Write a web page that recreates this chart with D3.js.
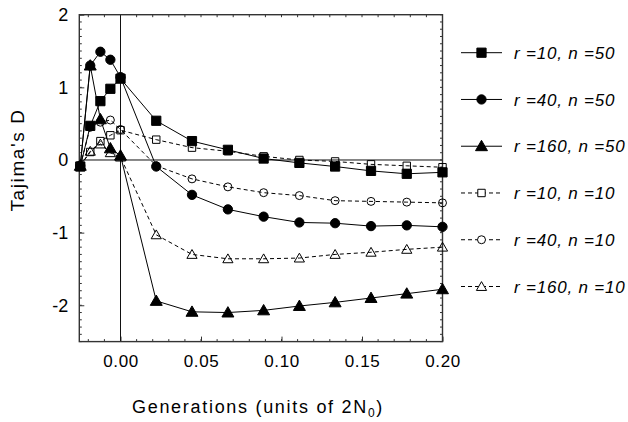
<!DOCTYPE html>
<html>
<head>
<meta charset="utf-8">
<script src="https://cdn.jsdelivr.net/npm/d3@7"></script>
<style>
  body { margin: 0; background: #fff; }
  svg text { font-family: Arial, "Liberation Sans", Helvetica, sans-serif; fill: #000; }
</style>
</head>
<body>
<div id="chart"></div>
<script>
// time points (units of 2N0)
let gens = [-0.025, -0.0188, -0.0125, -0.0063, 0, 0.0222, 0.0444, 0.0667, 0.0889, 0.1111, 0.1333, 0.1556, 0.1778, 0.2];

let r10n50  = [-0.09, 0.47, 0.81, 0.98, 1.12, 0.54, 0.26, 0.14, 0.02, -0.04, -0.09, -0.15, -0.19, -0.17];
let r40n50  = [-0.08, 1.30, 1.49, 1.38, 1.14, -0.09, -0.48, -0.68, -0.78, -0.86, -0.87, -0.91, -0.90, -0.92];
let r160n50 = [-0.08, 1.30, 0.56, 0.16, 0.06, -1.94, -2.09, -2.10, -2.07, -2.01, -1.96, -1.90, -1.84, -1.78];
let r10n10  = [-0.08, 0.11, 0.26, 0.34, 0.41, 0.28, 0.17, 0.12, 0.05, 0.00, -0.02, -0.06, -0.08, -0.10];
let r40n10  = [-0.08, 0.45, 0.52, 0.55, 0.42, -0.08, -0.26, -0.37, -0.45, -0.49, -0.56, -0.57, -0.58, -0.59];
let r160n10 = [-0.08, 0.12, 0.22, 0.10, 0.04, -1.03, -1.30, -1.36, -1.36, -1.35, -1.30, -1.27, -1.23, -1.20];

let seriesNames = ["r =10, n =50", "r =40, n =50", "r =160, n =50", "r =10, n =10", "r =40, n =10", "r =160, n =10"];
let xTicks = [0, 0.05, 0.1, 0.15, 0.2];
let yTicks = [-2, -1, 0, 1, 2];

let series = [
  { name: seriesNames[0], values: r10n50,  shape: "square",   filled: true },
  { name: seriesNames[1], values: r40n50,  shape: "circle",   filled: true },
  { name: seriesNames[2], values: r160n50, shape: "triangle", filled: true },
  { name: seriesNames[3], values: r10n10,  shape: "square",   filled: false },
  { name: seriesNames[4], values: r40n10,  shape: "circle",   filled: false },
  { name: seriesNames[5], values: r160n10, shape: "triangle", filled: false }
];

let width = 628, height = 422;
let margin = { left: 79.3, right: 185.5, top: 14.7, bottom: 80.4 };

let svg = d3.select("#chart").append("svg")
    .attr("width", width)
    .attr("height", height);

let x = d3.scaleLinear().domain([-0.0256, 0.2]).range([margin.left, width - margin.right]);
let y = d3.scaleLinear().domain([-2.5, 2]).range([height - margin.bottom, margin.top]);

let minorY = d3.range(-25, 21).map(v => v / 10);
let minorX = d3.range(-2, 21).map(v => v / 100);

// minor ticks (left/right/top/bottom, pointing inward)
let axisG = svg.append("g").attr("stroke", "#333").attr("stroke-width", 1);
minorY.forEach(v => {
  axisG.append("line").attr("x1", x.range()[0]).attr("x2", x.range()[0] + 2.5).attr("y1", y(v)).attr("y2", y(v));
  axisG.append("line").attr("x1", x.range()[1]).attr("x2", x.range()[1] - 2.5).attr("y1", y(v)).attr("y2", y(v));
});
minorX.forEach(v => {
  axisG.append("line").attr("x1", x(v)).attr("x2", x(v)).attr("y1", y.range()[0]).attr("y2", y.range()[0] - 2.5);
  axisG.append("line").attr("x1", x(v)).attr("x2", x(v)).attr("y1", y.range()[1]).attr("y2", y.range()[1] + 2.5);
});

let yAxis = svg.append("g")
    .attr("transform", `translate(${margin.left},0)`)
    .call(d3.axisLeft(y).tickValues(yTicks).tickSize(-5).tickPadding(11).tickFormat(d => String(d)));
let xAxis = svg.append("g")
    .attr("transform", `translate(0,${height - margin.bottom})`)
    .call(d3.axisBottom(x).tickValues(xTicks).tickSize(-5).tickPadding(13).tickFormat(d3.format(".2f")));

[yAxis, xAxis].forEach(g => {
  g.select(".domain").remove();
  g.selectAll(".tick line").attr("stroke", "#333");
  g.selectAll("text").attr("font-size", 17);
});
xAxis.selectAll("text").attr("letter-spacing", 0.6);
yAxis.selectAll("text").attr("font-size", 18);

// zero reference lines
svg.append("line")
    .attr("x1", x.range()[0]).attr("x2", x.range()[1])
    .attr("y1", y(0)).attr("y2", y(0))
    .attr("stroke", "#111").attr("stroke-width", 1);
svg.append("line")
    .attr("x1", x(0)).attr("x2", x(0))
    .attr("y1", y.range()[0]).attr("y2", y.range()[1])
    .attr("stroke", "#111").attr("stroke-width", 1);

// frame
svg.append("rect")
    .attr("x", x.range()[0]).attr("y", y.range()[1])
    .attr("width", x.range()[1] - x.range()[0])
    .attr("height", y.range()[0] - y.range()[1])
    .attr("fill", "none").attr("stroke", "#333").attr("stroke-width", 1.4);

let symbolFor = (shape, filled) => {
  let type = shape === "square" ? d3.symbolSquare : shape === "circle" ? d3.symbolCircle : d3.symbolTriangle;
  let size = filled ? (shape === "square" ? 85 : shape === "circle" ? 68 : 62) : (shape === "square" ? 55 : shape === "circle" ? 50 : 45);
  return d3.symbol().type(type).size(size)();
};

let line = d3.line()
    .x((d, i) => x(gens[i]))
    .y(d => y(d));

let plot = svg.append("g");
let order = [3, 4, 5, 0, 1, 2];

order.forEach(k => {
  let s = series[k];
  plot.append("path")
      .datum(s.values)
      .attr("d", line)
      .attr("fill", "none")
      .attr("stroke", "#000")
      .attr("stroke-width", 1)
      .attr("stroke-dasharray", s.filled ? null : "4,3");
});

order.forEach(k => {
  let s = series[k];
  plot.append("g").selectAll("path")
      .data(s.values)
      .join("path")
      .attr("transform", (d, i) => `translate(${x(gens[i])},${y(d) + (s.shape === "triangle" ? 1 : 0)})`)
      .attr("d", symbolFor(s.shape, s.filled))
      .attr("fill", s.filled ? "#000" : "none")
      .attr("stroke", "#000")
      .attr("stroke-width", 1);
});

// legend
let legendY = d3.scalePoint().domain(seriesNames).range([52.7, 286.5]);
let legend = svg.append("g");
series.forEach(s => {
  let ly = legendY(s.name);
  legend.append("line")
      .attr("x1", 461).attr("x2", 502)
      .attr("y1", ly).attr("y2", ly)
      .attr("stroke", "#000").attr("stroke-width", 1)
      .attr("stroke-dasharray", s.filled ? null : "4,3");
  legend.append("path")
      .attr("transform", `translate(481.5,${ly + (s.shape === "triangle" ? 1 : 0)})`)
      .attr("d", symbolFor(s.shape, s.filled))
      .attr("fill", s.filled ? "#000" : "#fff")
      .attr("stroke", "#000");
  legend.append("text")
      .attr("x", 514).attr("y", ly)
      .attr("dy", "0.36em")
      .attr("font-size", 17)
      .attr("font-style", "italic")
      .attr("letter-spacing", 0.8)
      .text(s.name);
});

// axis titles
let xt = svg.append("text")
    .attr("x", 258).attr("y", 413)
    .attr("text-anchor", "middle")
    .attr("font-size", 18)
    .attr("letter-spacing", 1.7);
xt.append("tspan").text("Generations (units of 2N");
xt.append("tspan").attr("font-size", 12).attr("dy", 4).text("0");
xt.append("tspan").attr("dy", -4).text(")");

svg.append("text")
    .attr("transform", `translate(24,${y(0)}) rotate(-90)`)
    .attr("text-anchor", "middle")
    .attr("font-size", 19)
    .attr("letter-spacing", 1.6)
    .text("Tajima's D");
</script>
</body>
</html>
